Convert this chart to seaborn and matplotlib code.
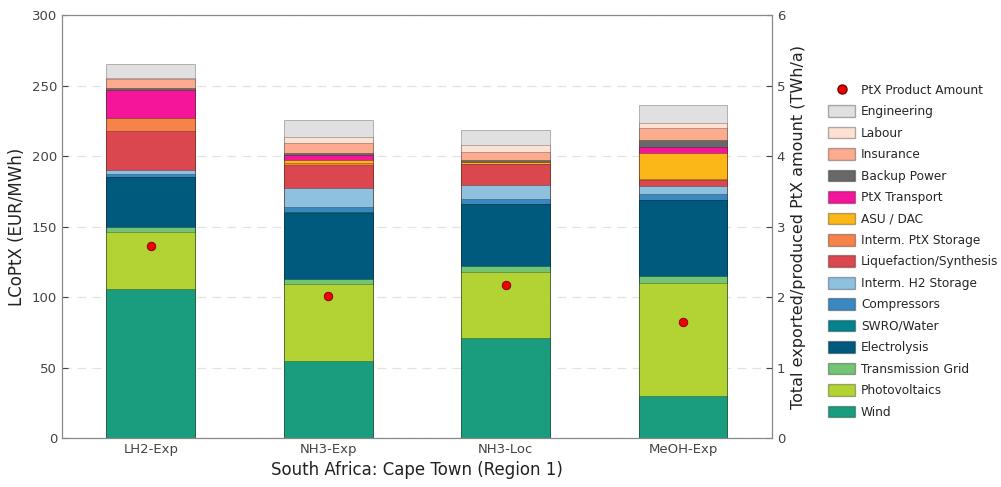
import numpy as np
import pandas as pd
import matplotlib
matplotlib.use("Agg")
import matplotlib.pyplot as plt
from matplotlib.patches import Patch
from matplotlib.lines import Line2D
import seaborn as sns

# ---------------------------------------------------------------------
# data (EUR/MWh per component, bottom -> top)
# ---------------------------------------------------------------------
cases = ["LH2-Exp", "NH3-Exp", "NH3-Loc", "MeOH-Exp"]

components = [
    "Wind", "Photovoltaics", "Transmission Grid", "Electrolysis", "SWRO/Water",
    "Compressors", "Interm. H2 Storage", "Liquefaction/Synthesis",
    "Interm. PtX Storage", "ASU / DAC", "PtX Transport", "Backup Power",
    "Insurance", "Labour", "Engineering",
]

wind = [105.4, 54.6, 71.0, 29.8]
photovoltaics = [40.9, 54.4, 47.0, 79.9]
transmission_grid = [3.6, 3.8, 4.0, 5.2]
electrolysis = [35.1, 47.0, 43.7, 53.6]
swro_water = [0.3, 0.3, 0.3, 0.3]
compressors = [1.9, 4.0, 3.2, 4.2]
interm_h2_storage = [2.9, 13.4, 10.2, 5.7]
liquefaction_synthesis = [27.4, 16.1, 14.7, 4.1]
interm_ptx_storage = [9.2, 1.5, 0.5, 0.7]
asu_dac = [0.0, 2.0, 1.4, 18.9]
ptx_transport = [20.4, 3.5, 0.0, 3.8]
backup_power = [0.8, 1.2, 1.2, 5.1]
insurance = [6.4, 7.1, 5.9, 8.3]
labour = [1.2, 4.3, 4.7, 4.0]
engineering = [10.1, 12.3, 10.6, 12.6]

ptx_amount = [2.73, 2.02, 2.17, 1.65]  # TWh/a

colors = {
    "Wind": "#1a9d7e",
    "Photovoltaics": "#b3d334",
    "Transmission Grid": "#74c476",
    "Electrolysis": "#005a7e",
    "SWRO/Water": "#02838f",
    "Compressors": "#3b88c0",
    "Interm. H2 Storage": "#8ec1de",
    "Liquefaction/Synthesis": "#da474f",
    "Interm. PtX Storage": "#f6834a",
    "ASU / DAC": "#fbb718",
    "PtX Transport": "#f5159a",
    "Backup Power": "#686868",
    "Insurance": "#fcab8e",
    "Labour": "#fde1d3",
    "Engineering": "#dfe0df",
}

df = pd.DataFrame(
    [wind, photovoltaics, transmission_grid, electrolysis, swro_water,
     compressors, interm_h2_storage, liquefaction_synthesis,
     interm_ptx_storage, asu_dac, ptx_transport, backup_power,
     insurance, labour, engineering],
    index=components, columns=cases,
)
cum = df.cumsum()

# ---------------------------------------------------------------------
# figure
# ---------------------------------------------------------------------
sns.set_style("white")
plt.rcParams["font.family"] = ["DejaVu Sans"]
plt.rcParams["axes.edgecolor"] = "#888888"
plt.rcParams["xtick.color"] = "#444444"
plt.rcParams["ytick.color"] = "#444444"
plt.rcParams["xtick.direction"] = "in"
plt.rcParams["ytick.direction"] = "in"

fig = plt.figure(figsize=(10.01, 4.87), dpi=100)
ax = fig.add_axes([0.062, 0.1006, 0.709, 0.8686])

# stacked bars: draw cumulative totals top-down so shorter bars cover taller
for comp in components[::-1]:
    sns.barplot(x=cases, y=cum.loc[comp].values, color=colors[comp],
                width=0.5, saturation=1, edgecolor=(0, 0, 0, 0.3),
                linewidth=0.6, ax=ax)

ax.set_xlim(-0.5, 3.5)
ax.set_ylim(0, 300)
ax.set_yticks(range(0, 301, 50))
ax.set_axisbelow(True)
ax.yaxis.grid(True, linestyle=(0, (7, 5)), color="#e3e3e3", linewidth=0.9)
ax.set_ylabel("LCoPtX (EUR/MWh)", fontsize=12, color="#222222")
ax.set_xlabel("South Africa: Cape Town (Region 1)", fontsize=12, color="#222222")
ax.tick_params(axis="both", labelsize=9.5, length=4, width=0.8)

ax2 = ax.twinx()
sns.scatterplot(x=np.arange(len(cases)), y=ptx_amount, color="#ee0000",
                edgecolor="#7a0000", linewidth=0.6, s=38, zorder=5, ax=ax2)
ax2.set_ylim(0, 6)
ax2.set_yticks(range(0, 7))
ax2.set_ylabel("Total exported/produced PtX amount (TWh/a)", fontsize=11.5,
               color="#222222")
ax2.tick_params(axis="y", labelsize=9.5, length=4, width=0.8)
ax2.grid(False)

handles = [Line2D([0], [0], marker="o", linestyle="none", markersize=6.5,
                  markerfacecolor="#ee0000", markeredgecolor="#7a0000",
                  label="PtX Product Amount")]
for comp in components[::-1]:
    handles.append(Patch(facecolor=colors[comp], edgecolor=(0, 0, 0, 0.3),
                         label=comp))
fig.legend(handles=handles, loc="upper left", bbox_to_anchor=(0.822, 0.838),
           frameon=False, fontsize=8.7, handlelength=2.3, handleheight=1.1,
           labelspacing=0.7, handletextpad=0.45, borderaxespad=0)

fig.savefig("out.png", dpi=100)
